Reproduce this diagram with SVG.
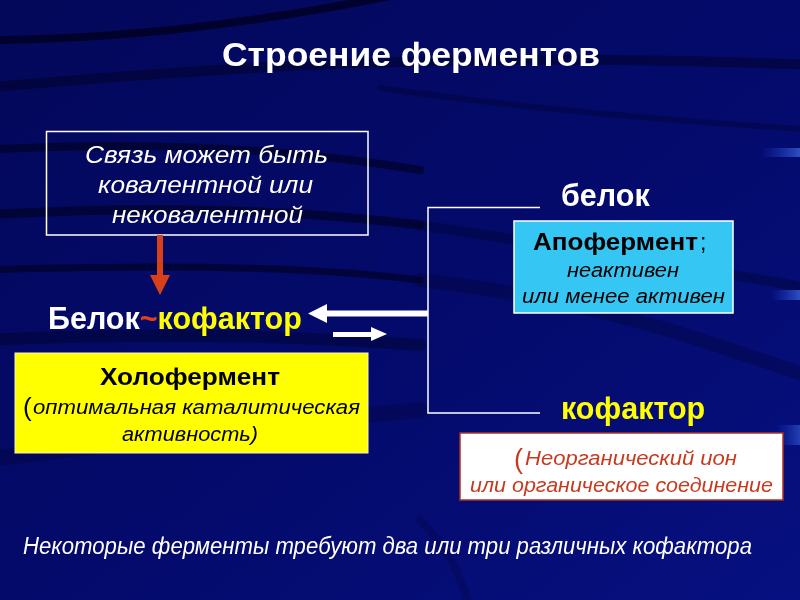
<svg xmlns="http://www.w3.org/2000/svg" width="800" height="600" viewBox="0 0 800 600">
<defs>
<linearGradient id="bg" x1="0" y1="0" x2="1" y2="1">
<stop offset="0" stop-color="#03085a"/>
<stop offset="0.5" stop-color="#040a6a"/>
<stop offset="1" stop-color="#061080"/>
</linearGradient>
<linearGradient id="glow" x1="0" y1="0" x2="1" y2="0">
<stop offset="0" stop-color="#2a5cff" stop-opacity="0"/>
<stop offset="1" stop-color="#4f86ff"/>
</linearGradient>
</defs>
<style>
.streak{fill:none;stroke:#000018;stroke-linecap:round}
.t{font-family:"Liberation Sans",Arial,sans-serif}
.w{fill:#ffffff}
.y{fill:#ffff00}
.b{font-weight:bold}
.i{font-style:italic}
.k{fill:#000000}
.r{fill:#c83a1e}
.br{fill:none;stroke:#ffffff;stroke-width:1.5}
</style>
<rect width="800" height="600" fill="url(#bg)"/>
<g id="background" opacity="0.7">
<path class="streak" d="M -20 40 C 150 40, 300 15, 420 -10" stroke-width="8"/>
<path class="streak" d="M -20 88 C 200 70, 420 50, 820 65" stroke-width="10" opacity="0.6"/>
<path class="streak" d="M 380 88 C 500 105, 650 120, 820 130" stroke-width="6" opacity="0.4"/>
<path class="streak" d="M -20 150 C 150 140, 300 150, 420 170" stroke-width="8" opacity="0.8"/>
<path class="streak" d="M -20 215 C 150 205, 300 210, 420 225" stroke-width="9" opacity="0.8"/>
<path class="streak" d="M 420 225 C 550 245, 650 260, 820 290" stroke-width="10" opacity="0.4"/>
<path class="streak" d="M -20 270 C 150 265, 300 265, 420 280" stroke-width="7" opacity="0.8"/>
<path class="streak" d="M 420 280 C 600 300, 700 340, 820 380" stroke-width="14" opacity="0.35"/>
<path class="streak" d="M -20 340 C 200 330, 350 340, 420 345" stroke-width="12" opacity="0.5"/>
<path class="streak" d="M -20 460 C 150 440, 300 420, 420 410" stroke-width="16" opacity="0.3"/>
<path class="streak" d="M 420 520 C 445 545, 460 570, 470 610" stroke-width="8" opacity="0.25"/>
<rect x="760" y="148" width="40" height="9" fill="url(#glow)" opacity="0.8"/>
<rect x="770" y="290" width="30" height="10" fill="url(#glow)" opacity="0.8"/>
<rect x="775" y="425" width="25" height="20" fill="url(#glow)" opacity="0.6"/>
</g>

<g id="title">
<text class="t w b" x="222" y="66" font-size="33" textLength="378" lengthAdjust="spacingAndGlyphs">Строение ферментов</text>
</g>

<g id="node-bond">
<rect x="46.5" y="131.5" width="321.5" height="103.5" fill="none" stroke="#ffffff" stroke-width="1.5"/>
<text class="t w i" x="85" y="163" font-size="24" textLength="243" lengthAdjust="spacingAndGlyphs">Связь может быть</text>
<text class="t w i" x="98" y="193" font-size="24" textLength="215" lengthAdjust="spacingAndGlyphs">ковалентной или</text>
<text class="t w i" x="112" y="223" font-size="24" textLength="191" lengthAdjust="spacingAndGlyphs">нековалентной</text>
</g>

<g id="node-complex">
<text class="t b" x="48" y="329" font-size="30.5"><tspan class="w">Белок</tspan><tspan fill="#e0401a">~</tspan><tspan class="y">кофактор</tspan></text>
</g>

<g id="node-holoenzyme">
<rect x="15" y="353" width="353" height="100" fill="#ffff00" stroke="#f5f5c0" stroke-width="1"/>
<text class="t k b" x="100" y="385" font-size="23.5" textLength="180" lengthAdjust="spacingAndGlyphs">Холофермент</text>
<text class="t k" x="23" y="416" font-size="26">(</text>
<text class="t k i" x="33" y="414" font-size="20" textLength="327" lengthAdjust="spacingAndGlyphs">оптимальная каталитическая</text>
<text class="t k i" x="122" y="441" font-size="20" textLength="136" lengthAdjust="spacingAndGlyphs">активность)</text>
</g>

<g id="node-protein-label">
<text class="t w b" x="561" y="206" font-size="30.5">белок</text>
</g>

<g id="node-apoenzyme">
<rect x="514" y="221" width="219" height="92" fill="#36c6f4" stroke="#ffffff" stroke-width="1.5"/>
<text class="t k b" x="533" y="250" font-size="23" textLength="165" lengthAdjust="spacingAndGlyphs">Апофермент</text>
<text class="t k" x="700" y="250" font-size="23">;</text>
<text class="t k i" x="567" y="277" font-size="19.5" textLength="112" lengthAdjust="spacingAndGlyphs">неактивен</text>
<text class="t k i" x="522" y="303" font-size="19.5" textLength="203" lengthAdjust="spacingAndGlyphs">или менее активен</text>
</g>

<g id="node-cofactor-label">
<text class="t y b" x="561" y="419" font-size="30.5">кофактор</text>
</g>

<g id="node-cofactor-types">
<rect x="460" y="433" width="323" height="67" fill="#ffffff" stroke="#b03020" stroke-width="1.5"/>
<text class="t r" x="514" y="468" font-size="27">(</text>
<text class="t r i" x="525" y="465" font-size="20" textLength="212" lengthAdjust="spacingAndGlyphs">Неорганический ион</text>
<text class="t r i" x="470" y="492" font-size="20" textLength="303" lengthAdjust="spacingAndGlyphs">или органическое соединение</text>
</g>

<g id="footnote">
<text class="t w i" x="23" y="554" font-size="23" textLength="729" lengthAdjust="spacingAndGlyphs">Некоторые ферменты требуют два или три различных кофактора</text>
</g>

<g id="connectors">
<rect x="157" y="235" width="6" height="42" fill="#d8401a"/>
<polygon points="150,275 170,275 160,295" fill="#d8401a"/>
<polyline class="br" points="540,207.5 428,207.5 428,413 540,413"/>
<polygon points="308,313.5 327,304 327,310.5 428,310.5 428,316.5 327,316.5 327,323" fill="#ffffff"/>
<polygon points="387,334 371,327 371,332 333,332 333,337 371,337 371,341" fill="#ffffff"/>
</g>
</svg>
